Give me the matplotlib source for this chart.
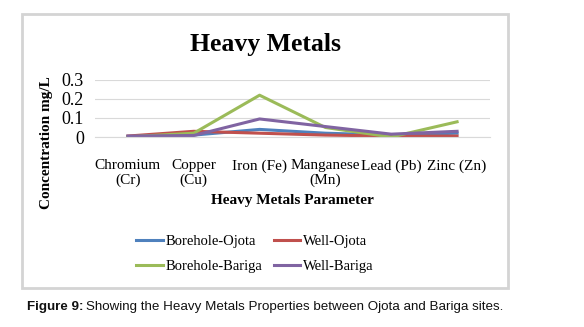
import matplotlib.pyplot as plt
from matplotlib.patches import Rectangle

# data
categories = ['Chromium\n(Cr)', 'Copper\n(Cu)', 'Iron (Fe)', 'Manganese\n(Mn)', 'Lead (Pb)', 'Zinc (Zn)']
borehole_ojota = [0.003, 0.010, 0.040, 0.020, 0.010, 0.020]
well_ojota = [0.005, 0.030, 0.020, 0.010, 0.005, 0.005]
borehole_bariga = [0.001, 0.020, 0.220, 0.050, 0.000, 0.080]
well_bariga = [0.005, 0.008, 0.095, 0.055, 0.015, 0.030]
yticks = [0, 0.1, 0.2, 0.3]
ytick_labels = ['0', '0.1', '0.2', '0.3']

serif = 'Liberation Serif'

fig = plt.figure(figsize=(5.84, 3.27), dpi=100)
fig.patch.set_facecolor('white')

# grey chart frame
fig.patches.append(Rectangle((22 / 584, 1 - 288 / 327), 486 / 584, 274 / 327,
                             transform=fig.transFigure, fill=False,
                             edgecolor='#d4d4d4', linewidth=2))

ax = fig.add_axes([95 / 584, 1 - 137 / 327, 395 / 584, 57 / 327])
x = range(len(categories))
l1, = ax.plot(x, borehole_ojota, color='#4F81BD', lw=2.2, label='Borehole-Ojota')
l2, = ax.plot(x, well_ojota, color='#C0504D', lw=2.2, label='Well-Ojota')
l3, = ax.plot(x, borehole_bariga, color='#9BBB59', lw=2.2, label='Borehole-Bariga')
l4, = ax.plot(x, well_bariga, color='#8064A2', lw=2.2, label='Well-Bariga')

ax.set_xlim(-0.5, len(categories) - 0.5)
ax.set_ylim(0, 0.3)
ax.set_yticks(yticks)
ax.set_yticklabels(ytick_labels, fontsize=13, family=serif)
ax.set_xticks(list(x))
ax.set_xticklabels(categories, fontsize=11, family=serif, linespacing=1.15)
ax.tick_params(length=0)
ax.tick_params(axis='x', pad=16)
ax.tick_params(axis='y', pad=8)
ax.grid(axis='y', color='#d9d9d9', lw=0.8)
ax.set_axisbelow(True)
for s in ['top', 'right', 'left']:
    ax.spines[s].set_visible(False)
ax.spines['bottom'].set_color('#d9d9d9')

ax.set_xlabel('Heavy Metals Parameter', fontsize=11, family=serif,
              fontweight='bold', labelpad=5)
fig.text(47 / 584, 1 - 143 / 327, 'Concentration mg/L', rotation=90,
         ha='center', va='center', fontsize=11, family=serif, fontweight='bold')

fig.text(265 / 584, 1 - 45 / 327, 'Heavy Metals', ha='center', va='center',
         fontsize=18.5, family=serif, fontweight='bold')

# legend filled row by row (matplotlib fills column-wise)
fig.legend([l1, l3, l2, l4],
           ['Borehole-Ojota', 'Borehole-Bariga', 'Well-Ojota', 'Well-Bariga'],
           loc='center', bbox_to_anchor=(255 / 584, 1 - 254 / 327), ncol=2,
           frameon=False, prop={'family': serif, 'size': 10.5},
           handlelength=1.8, handletextpad=0.2, columnspacing=0.8,
           labelspacing=0.85)

# caption: bold prefix followed by regular text
cap1 = fig.text(27 / 584, 1 - 307 / 327, 'Figure 9:', fontsize=9.6,
                family='Liberation Sans', fontweight='bold', va='center',
                color='#111111')
fig.canvas.draw()
bb = cap1.get_window_extent().transformed(fig.transFigure.inverted())
fig.text(bb.x1 + 3 / 584, 1 - 307 / 327,
         'Showing the Heavy Metals Properties between Ojota and Bariga sites.',
         fontsize=9.6, family='Liberation Sans', va='center', color='#111111')

plt.savefig('out.png', dpi=100)
